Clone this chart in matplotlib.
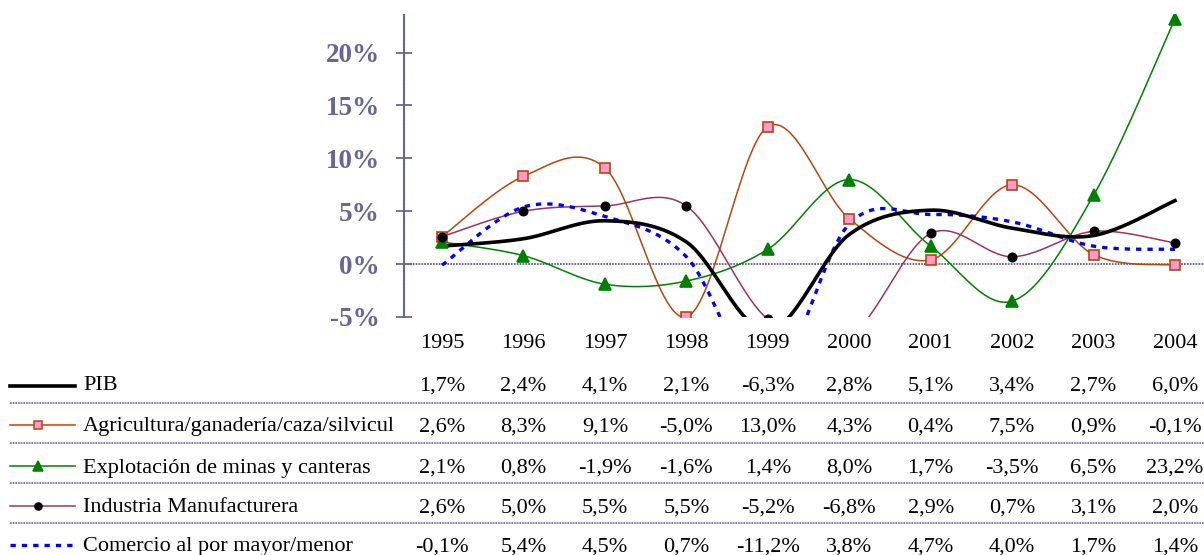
import numpy as np
import matplotlib
matplotlib.use("Agg")
import matplotlib.pyplot as plt
from matplotlib.transforms import blended_transform_factory

years = ["1995", "1996", "1997", "1998", "1999", "2000", "2001", "2002", "2003", "2004"]
series_names = ["PIB", "Agricultura/ganadería/caza/silvicul", "Explotación de minas y canteras",
                "Industria Manufacturera", "Comercio al por mayor/menor"]
pib = [1.7, 2.4, 4.1, 2.1, -6.3, 2.8, 5.1, 3.4, 2.7, 6.0]
agricultura = [2.6, 8.3, 9.1, -5.0, 13.0, 4.3, 0.4, 7.5, 0.9, -0.1]
minas = [2.1, 0.8, -1.9, -1.6, 1.4, 8.0, 1.7, -3.5, 6.5, 23.2]
industria = [2.6, 5.0, 5.5, 5.5, -5.2, -6.8, 2.9, 0.7, 3.1, 2.0]
comercio = [-0.1, 5.4, 4.5, 0.7, -11.2, 3.8, 4.7, 4.0, 1.7, 1.4]
yticks = [-5, 0, 5, 10, 15, 20]

AX_COL = "#666699"
W, H = 1204, 555


def smooth(xs, ys, n=30):
    # Bezier smoothing (Catmull-Rom style) for drawing the curve through the data points
    P = np.column_stack([xs, ys]).astype(float)
    m = len(P)
    out = [P[0]]
    for i in range(m - 1):
        p0 = P[i - 1] if i > 0 else P[i]
        p1 = P[i]
        p2 = P[i + 1]
        p3 = P[i + 2] if i + 2 < m else P[i + 1]
        c1 = p1 + (p2 - p0) / 6.0
        c2 = p2 - (p3 - p1) / 6.0
        t = np.linspace(0, 1, n)[1:, None]
        seg = ((1 - t) ** 3) * p1 + 3 * ((1 - t) ** 2) * t * c1 + 3 * (1 - t) * t ** 2 * c2 + t ** 3 * p2
        out.extend(seg)
    out = np.array(out)
    return out[:, 0], out[:, 1]


fig = plt.figure(figsize=(W / 100, H / 100), dpi=100)
plt.rcParams['font.family'] = ['Liberation Serif', 'DejaVu Serif']

ax_left = 404 / W
ax_bottom = (H - 317) / H
ax_top = (H - 14) / H
ax = fig.add_axes([ax_left, ax_bottom, 1 - ax_left, ax_top - ax_bottom])
ax.patch.set_alpha(0)

x = np.arange(len(years))
styles = [
    dict(data=pib, color="black", lw=2.6, ls="-", marker=None),
    dict(data=agricultura, color="#b5460f", lw=1.1, ls="-", marker="s", mfc="#ff99cc", mec="#b5460f", ms=6.5),
    dict(data=minas, color="#008000", lw=1.1, ls="-", marker="^", mfc="#008000", mec="#008000", ms=8),
    dict(data=industria, color="#993366", lw=1.1, ls="-", marker="o", mfc="black", mec="black", ms=6),
    dict(data=comercio, color="#0000ff", lw=2.4, ls=(0, (1.6, 1.8)), marker=None),
]

order = [1, 2, 3, 4, 0]
for k in order:
    s = styles[k]
    sx, sy = smooth(x, s["data"])
    ax.plot(sx, sy, color=s["color"], lw=s["lw"], ls=s["ls"], zorder=3 + (k == 0))
    if s["marker"]:
        ax.plot(x, s["data"], ls="none", marker=s["marker"], mfc=s["mfc"], mec=s["mec"],
                ms=s["ms"], mew=1.2, zorder=5)

cat_w = 81.4
ax.set_xlim(-(442 - 404) / cat_w, 9 + (W - 1175) / cat_w)
ax.set_ylim(-5, 23.65)
ax.axhline(0, color=AX_COL, lw=1.3, ls=(0, (1, 0.6)), zorder=2)

for side in ["top", "right", "bottom"]:
    ax.spines[side].set_visible(False)
ax.spines["left"].set_color(AX_COL)
ax.spines["left"].set_linewidth(1.5)
ax.spines["left"].set_linestyle((0, (1, 0.6)))

ax.set_xticks([])
ax.set_yticks(yticks)
ax.set_yticklabels([f"{v}%" for v in yticks], fontsize=19.5, fontweight="bold", color=AX_COL)
ax.tick_params(axis="y", direction="inout", length=11, width=1.3, color=AX_COL, pad=12)

# data table
trans = blended_transform_factory(ax.transData, fig.transFigure)
fs = 16
year_y = 1 - 343 / H
for i, yr in enumerate(years):
    fig.text(i, year_y, yr, transform=trans, ha="center", va="center", fontsize=fs)

row_y = [386, 427, 468, 508, 547]
sep_y = [403, 443, 483, 523]
for y in sep_y:
    fig.add_artist(plt.Line2D([10 / W, 1.0], [1 - y / H, 1 - y / H], transform=fig.transFigure,
                              color=AX_COL, lw=1.2, ls=(0, (1, 0.6))))

key_y_off = [0, -2, -2, -2, -2]
for r, k in enumerate(range(5)):
    s = styles[k]
    yy = 1 - row_y[r] / H
    ky = 1 - (row_y[r] + key_y_off[r]) / H
    fig.add_artist(plt.Line2D([10 / W, 75 / W], [ky, ky], transform=fig.transFigure,
                              color=s["color"], lw=s["lw"], ls=s["ls"]))
    if s["marker"]:
        fig.add_artist(plt.Line2D([38 / W], [ky], transform=fig.transFigure, ls="none",
                                  marker=s["marker"], mfc=s["mfc"], mec=s["mec"],
                                  ms=s["ms"] * 0.85, mew=1.1))
    fig.text(83 / W, yy, series_names[k], ha="left", va="center", fontsize=fs)
    for i, v in enumerate(s["data"]):
        label = f"{v:.1f}%".replace(".", ",")
        fig.text(i, yy, label, transform=trans, ha="center", va="center", fontsize=fs)

fig.savefig("out.png", dpi=100)
